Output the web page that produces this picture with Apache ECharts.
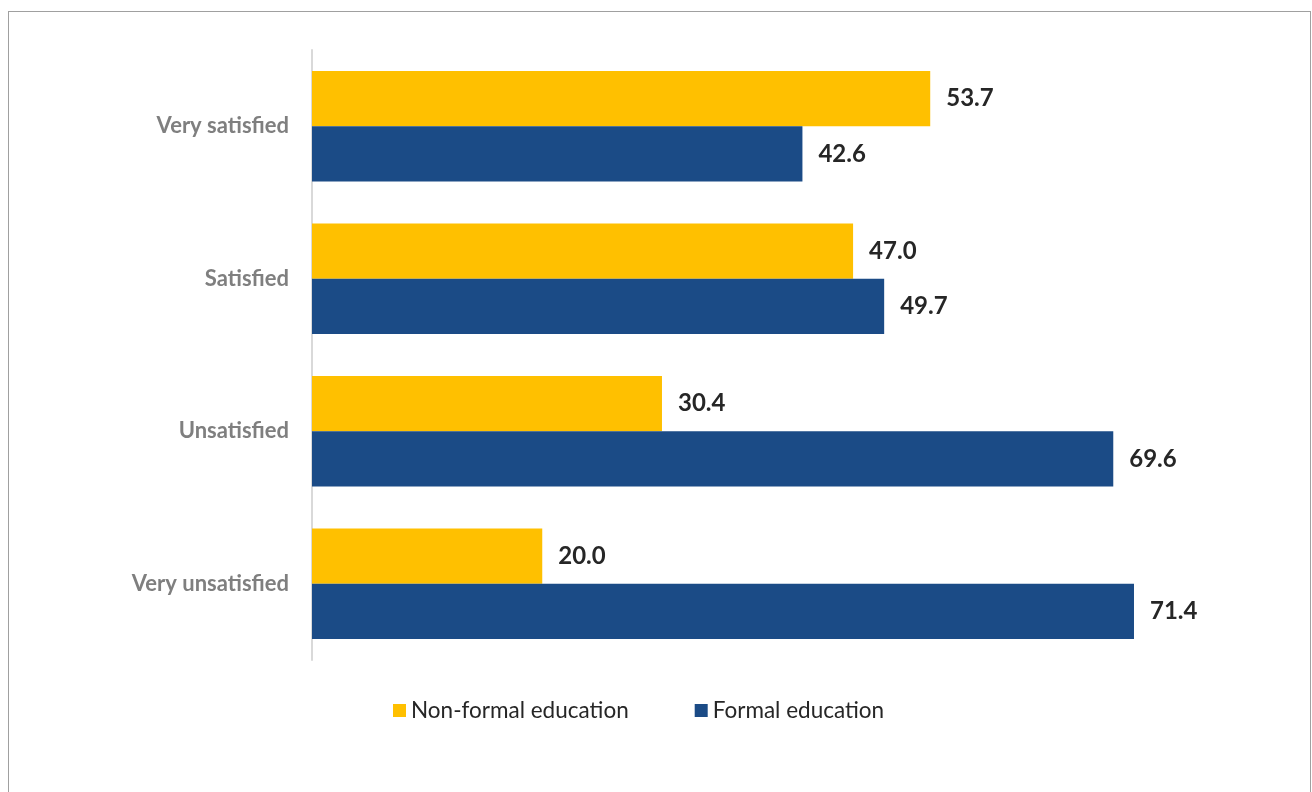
<!DOCTYPE html>
<html>
<head>
<meta charset="utf-8">
<script src="https://cdn.jsdelivr.net/npm/echarts@6/dist/echarts.min.js"></script>
<style>
html,body{margin:0;padding:0;background:#fff;width:1312px;height:792px;overflow:hidden;}
#frame{position:absolute;left:8px;top:11px;width:1303px;height:800px;border:1px solid #a0a0a0;box-sizing:border-box;}
#chart{position:absolute;left:0;top:0;width:1312px;height:792px;}
</style>
</head>
<body>
<div id="frame"></div>
<div id="chart"></div>
<script>
const categories = ['Very satisfied', 'Satisfied', 'Unsatisfied', 'Very unsatisfied'];
const nonFormal = [53.7, 47.0, 30.4, 20.0];
const formal = [42.6, 49.7, 69.6, 71.4];
const seriesNames = ['Non-formal education', 'Formal education'];

const chart = echarts.init(document.getElementById('chart'), null, {renderer: 'canvas'});
const fontFam = 'Lato, "Open Sans", sans-serif';
const labelCfg = {
  show: true, position: 'right', distance: 16,
  formatter: p => p.value.toFixed(1),
  color: '#262626', fontSize: 24, fontWeight: 'bold', fontFamily: fontFam
};
chart.setOption({
  animation: false,
  grid: {left: 312, top: 50, width: 921, height: 610, containLabel: false},
  legend: {
    data: seriesNames, top: 694, left: 388, itemWidth: 13, itemHeight: 13, itemGap: 66,
    icon: 'rect',
    textStyle: {color: '#262626', fontSize: 22.5, fontFamily: fontFam}
  },
  xAxis: {type: 'value', min: 0, max: 80, show: false},
  yAxis: {
    type: 'category', data: categories, inverse: true,
    axisLine: {show: true, lineStyle: {color: '#d9d9d9', width: 2}},
    axisTick: {show: false},
    axisLabel: {color: '#7f7f7f', fontSize: 22, fontWeight: 'bold', margin: 23, fontFamily: fontFam}
  },
  series: [
    {name: seriesNames[0], type: 'bar', data: nonFormal, barGap: '0%', barCategoryGap: '27.5%',
     itemStyle: {color: '#ffc000'}, label: labelCfg},
    {name: seriesNames[1], type: 'bar', data: formal, barGap: '0%', barCategoryGap: '27.5%',
     itemStyle: {color: '#1b4b86'}, label: labelCfg}
  ]
});
</script>
</body>
</html>
